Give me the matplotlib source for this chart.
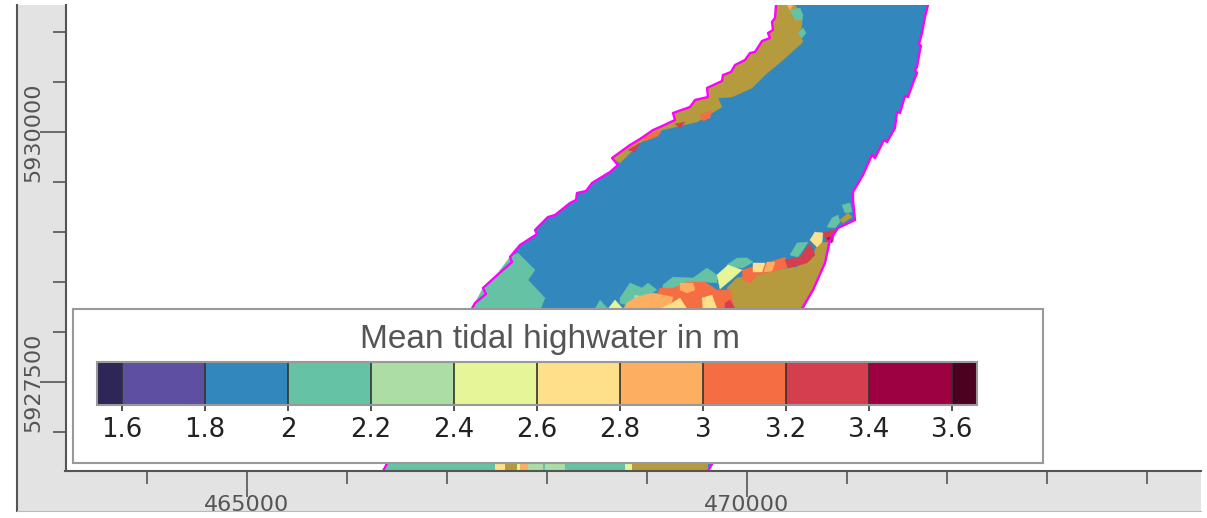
import matplotlib
matplotlib.use('Agg')
import matplotlib.pyplot as plt
from matplotlib.cm import ScalarMappable
from matplotlib.colors import BoundaryNorm, ListedColormap
from matplotlib.patches import Rectangle

plt.rcParams['font.family'] = 'DejaVu Sans'

# Colour class limits and colours of the legend
levels = [1.54, 1.6, 1.8, 2.0, 2.2, 2.4, 2.6, 2.8, 3.0, 3.2, 3.4, 3.6, 3.66]
level_colors = ['#2F2658', '#5E4FA2', '#3288BD', '#66C2A5', '#ABDDA4', '#E6F598',
                '#FEE08B', '#FDAE61', '#F46D43', '#D53E4F', '#9E0142', '#4D0120']
level_ticks = [1.6, 1.8, 2.0, 2.2, 2.4, 2.6, 2.8, 3.0, 3.2, 3.4, 3.6]
level_labels = ['1.6', '1.8', '2', '2.2', '2.4', '2.6', '2.8', '3', '3.2', '3.4', '3.6']
olive = '#B59B3D'

# River banks, easting and northing in m
left_bank = [(470290, 5931270), (470280, 5931140), (470250, 5931100), (470260, 5931020),
             (470210, 5930990), (470230, 5930940), (470150, 5930910), (470080, 5930800),
             (470030, 5930790), (469980, 5930720), (469880, 5930670), (469840, 5930600),
             (469760, 5930570), (469750, 5930510), (469600, 5930440), (469610, 5930350),
             (469480, 5930320), (469430, 5930250), (469260, 5930190), (469280, 5930120),
             (469130, 5930050), (469060, 5930020), (468930, 5929930), (468830, 5929870),
             (468650, 5929740), (468710, 5929670), (468630, 5929600), (468450, 5929490),
             (468390, 5929410), (468300, 5929390), (468290, 5929320), (468230, 5929290),
             (468080, 5929170), (468010, 5929150), (467880, 5929020), (467900, 5928980),
             (467730, 5928870), (467630, 5928750), (467650, 5928700), (467480, 5928550),
             (467360, 5928440), (467390, 5928380), (467280, 5928290), (466360, 5926610)]
right_bank = [(469610, 5926610), (470560, 5928250), (470660, 5928420), (470780, 5928690),
              (470830, 5928920), (470910, 5929040), (471080, 5929120), (471060, 5929320),
              (471060, 5929400), (471160, 5929570), (471250, 5929770), (471280, 5929740),
              (471370, 5929920), (471400, 5929900), (471480, 5930040), (471500, 5930200),
              (471530, 5930190), (471580, 5930360), (471610, 5930350), (471660, 5930490),
              (471700, 5930590), (471680, 5930620), (471700, 5930650), (471730, 5930820),
              (471740, 5930860), (471720, 5930880), (471750, 5930990), (471780, 5931150),
              (471810, 5931270)]

# Zones with a higher tidal highwater, listed per colour
olive_bank_end = left_bank.index((468650, 5929740)) + 1
olive_zones = [
    left_bank[:olive_bank_end] + [(468730, 5929690), (468930, 5929890), (469150, 5930020), (469500, 5930100),
                                  (469750, 5930250), (469710, 5930340), (469850, 5930350), (470050, 5930440),
                                  (470180, 5930570), (470360, 5930720), (470560, 5930900), (470530, 5930990),
                                  (470550, 5931070), (470550, 5931170), (470480, 5931270)],
    [(470810, 5928900), (470780, 5928690), (470660, 5928420), (470560, 5928220), (469860, 5928220),
     (469800, 5928440), (469900, 5928540), (470060, 5928570), (470260, 5928620), (470500, 5928650),
     (470660, 5928770), (470710, 5928890)],
]
green_zones = [
    [(467630, 5928750), (467480, 5928550), (467360, 5928440), (467280, 5928290), (467250, 5928220),
     (467930, 5928220), (467980, 5928340), (467810, 5928520), (467880, 5928620), (467710, 5928790)],
    [(469160, 5928470), (469260, 5928550), (469460, 5928540), (469600, 5928640), (469700, 5928570),
     (469700, 5928490), (469600, 5928500), (469430, 5928500), (469160, 5928390)],
    [(469800, 5928670), (469900, 5928740), (470000, 5928740), (470060, 5928700), (469960, 5928640),
     (469830, 5928650)],
    [(470430, 5928770), (470500, 5928890), (470610, 5928900), (470560, 5928820), (470510, 5928750)],
    [(468730, 5928340), (468830, 5928490), (468950, 5928440), (469010, 5928490), (469100, 5928420),
     (468930, 5928320), (468860, 5928250), (468730, 5928290)],
    [(468480, 5928230), (468530, 5928320), (468610, 5928230)],
    [(470950, 5929270), (471030, 5929290), (471050, 5929200), (470980, 5929190)],
    [(470800, 5929050), (470850, 5929140), (470910, 5929170), (470930, 5929100), (470880, 5929040)],
    [(470430, 5931220), (470530, 5931240), (470560, 5931170), (470550, 5931120), (470480, 5931120)],
    [(470510, 5930990), (470560, 5931040), (470590, 5930990), (470550, 5930940)],
]
light_green_zones = [[(468880, 5928370), (468960, 5928350), (468930, 5928320), (468860, 5928300)]]
lemon_zones = [
    [(469700, 5928570), (469810, 5928670), (469950, 5928620), (469860, 5928540), (469730, 5928430)],
    [(468610, 5928230), (468680, 5928320), (468760, 5928230)],
]
red_orange_zones = [
    [(470200, 5928690), (470380, 5928750), (470410, 5928650), (470230, 5928600), (470100, 5928570),
     (470030, 5928490), (469960, 5928520), (469950, 5928620)],
    [(468910, 5928220), (469000, 5928350), (469080, 5928340), (469130, 5928440), (469260, 5928440),
     (469410, 5928500), (469580, 5928500), (469700, 5928420), (469830, 5928420), (469880, 5928220)],
    [(469530, 5930170), (469650, 5930220), (469630, 5930140), (469560, 5930110)],
    [(468950, 5929950), (469150, 5930020), (469110, 5929960), (468980, 5929910)],
]
orange_zones = [
    [(470200, 5928700), (470280, 5928700), (470250, 5928610), (470170, 5928600)],
    [(468810, 5928300), (468930, 5928360), (469060, 5928390), (469030, 5928230), (468760, 5928230)],
    [(469060, 5928390), (469260, 5928350), (469230, 5928230), (469030, 5928230)],
    [(469330, 5928490), (469460, 5928490), (469480, 5928420), (469400, 5928390), (469330, 5928420)],
    [(470400, 5931270), (470460, 5931270), (470430, 5931220)],
]
pale_zones = [
    [(470060, 5928690), (470180, 5928690), (470150, 5928600), (470060, 5928600)],
    [(469250, 5928290), (469330, 5928340), (469400, 5928230), (469130, 5928230)],
    [(469550, 5928340), (469650, 5928370), (469700, 5928230), (469560, 5928230)],
    [(470630, 5928920), (470680, 5929000), (470760, 5928990), (470750, 5928900), (470700, 5928850)],
]
crimson_zones = [
    [(470630, 5928890), (470680, 5928770), (470600, 5928690), (470410, 5928640), (470380, 5928720),
     (470530, 5928750), (470580, 5928820)],
    [(469780, 5928290), (469830, 5928320), (469880, 5928230), (469780, 5928230)],
    [(470760, 5929000), (470880, 5929020), (470860, 5928900), (470800, 5928900)],
    [(469280, 5930080), (469380, 5930100), (469330, 5930040)],
    [(468810, 5929820), (468930, 5929890), (468880, 5929800)],
]
dark_zones = [[(470800, 5928940), (470850, 5928950), (470850, 5928890)]]
olive_small_zones = [[(470930, 5929120), (471010, 5929190), (471050, 5929150), (470960, 5929090)]]

# Strip of the river visible below the legend box
strip_edges = [466380, 467480, 467580, 467700, 467730, 467810, 467960, 467980, 468180, 468780,
               468850, 469610]
strip_colors = ['#66C2A5', '#FEE08B', olive, '#E6F598', '#FDAE61', '#ABDDA4', '#66C2A5', '#ABDDA4',
                '#66C2A5', '#E6F598', olive]
strip_north = [5926610, 5926690]

# Axis ticks
x_major = [465000, 470000]
x_minor = [464000, 466000, 467000, 468000, 469000, 471000, 472000, 473000, 474000]
y_major = [5927500, 5930000]
y_minor = [5927000, 5928000, 5928500, 5929000, 5929500, 5930500, 5931000]

W, H = 1207, 518
grey = '#555555'

def box(left, top, right, bottom):
    # Figure fractions from pixel edges, for add_axes
    return [left / W, 1 - bottom / H, (right - left) / W, (bottom - top) / H]

def fill_zones(ax, zones, color):
    for zone in zones:
        ax.fill([p[0] for p in zone], [p[1] for p in zone], color=color, lw=0.3)

fig = plt.figure(figsize=(W / 100, H / 100), dpi=100, facecolor='white')

# Grey panel round the map
fig.add_artist(Rectangle((17 / W, 1 - 511 / H), (1201 - 17) / W, (511 - 5) / H,
                         transform=fig.transFigure, fc='#E3E3E3', ec='none', zorder=-1))
fig.add_artist(plt.Line2D([17 / W, 17 / W], [1 - 511 / H, 1 - 5 / H], color=grey, lw=1.5))
fig.add_artist(plt.Line2D([17 / W, 1201 / W], [1 - 511 / H, 1 - 511 / H], color='#BBBBBB', lw=0.8))

ax = fig.add_axes(box(65.5, 5, 1201, 471))
ax.set_facecolor('white')
ax.set_xlim(463185, 474540)
ax.set_ylim(5926610, 5931270)

# River and zones
river = left_bank + right_bank
ax.fill([p[0] for p in river], [p[1] for p in river], color='#3288BD', lw=0)
fill_zones(ax, olive_zones, olive)
fill_zones(ax, green_zones, '#66C2A5')
fill_zones(ax, light_green_zones, '#ABDDA4')
fill_zones(ax, lemon_zones, '#E6F598')
fill_zones(ax, red_orange_zones, '#F46D43')
fill_zones(ax, orange_zones, '#FDAE61')
fill_zones(ax, pale_zones, '#FEE08B')
fill_zones(ax, crimson_zones, '#D53E4F')
fill_zones(ax, dark_zones, '#9E0142')
fill_zones(ax, olive_small_zones, olive)
for i in range(len(strip_colors)):
    ax.fill_between(strip_edges[i:i + 2], strip_north[0], strip_north[1], color=strip_colors[i], lw=0)
for bank in (left_bank, right_bank):
    ax.plot([p[0] for p in bank], [p[1] for p in bank], color='#FF00FF', lw=1.7)

for side in ('top', 'right'):
    ax.spines[side].set_visible(False)
for side in ('left', 'bottom'):
    ax.spines[side].set_color(grey)
    ax.spines[side].set_linewidth(1.5)

ax.set_xticks(x_major)
ax.set_xticks(x_minor, minor=True)
ax.set_yticks(y_major)
ax.set_yticks(y_minor, minor=True)
ax.set_xticklabels([str(v) for v in x_major])
ax.set_yticklabels([str(v) for v in y_major], rotation=90, va='center')
ax.tick_params(which='major', length=19, width=1.2, color=grey, labelcolor=grey, labelsize=16)
ax.tick_params(axis='x', which='major', pad=-1.5)
ax.tick_params(axis='y', which='major', pad=-3)
ax.tick_params(which='minor', length=9.5, width=1.2, color=grey)

# Legend box
legend_ax = fig.add_axes(box(72.5, 309, 1043, 463))
legend_ax.set_xticks([])
legend_ax.set_yticks([])
for spine in legend_ax.spines.values():
    spine.set_color('#999999')
    spine.set_linewidth(1.5)
legend_ax.text(0.4925, 0.805, 'Mean tidal highwater in m', transform=legend_ax.transAxes,
               ha='center', va='center', fontsize=24, color=grey, family='Liberation Sans')

cax = fig.add_axes(box(97, 362, 977, 405))
norm = BoundaryNorm(levels, len(level_colors))
sm = ScalarMappable(norm=norm, cmap=ListedColormap(level_colors))
cbar = fig.colorbar(sm, cax=cax, orientation='horizontal', spacing='proportional', ticks=level_ticks)
cbar.set_ticklabels(level_labels)
cbar.outline.set_edgecolor('#999999')
cbar.outline.set_linewidth(1.5)
cax.minorticks_off()
cax.tick_params(axis='x', length=4.5, width=1.2, color='#333333', labelcolor='#222222', labelsize=18.7, pad=4)
cax.vlines(level_ticks, 0, 1, color='#333333', lw=1.2)

fig.savefig('out.png', dpi=100)
